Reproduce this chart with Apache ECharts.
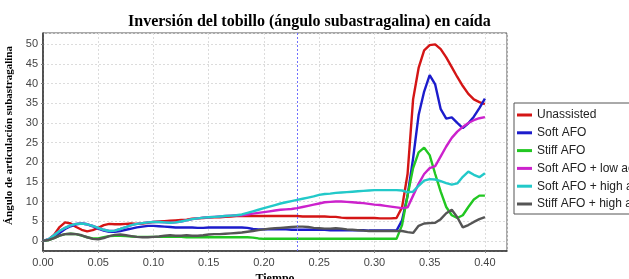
<!DOCTYPE html>
<html>
<head>
<meta charset="utf-8">
<script src="https://cdn.jsdelivr.net/npm/echarts@6/dist/echarts.min.js"></script>
<style>
  html, body { margin: 0; padding: 0; background: #fff; }
  #chart { width: 629px; height: 279px; }
</style>
</head>
<body>
<div id="chart"></div>
<script>
// tiempo (s), one value every 0.005
const tiempo = [
  0.000, 0.005, 0.010, 0.015, 0.020, 0.025, 0.030, 0.035, 0.040, 0.045,
  0.050, 0.055, 0.060, 0.065, 0.070, 0.075, 0.080, 0.085, 0.090, 0.095,
  0.100, 0.105, 0.110, 0.115, 0.120, 0.125, 0.130, 0.135, 0.140, 0.145,
  0.150, 0.155, 0.160, 0.165, 0.170, 0.175, 0.180, 0.185, 0.190, 0.195,
  0.200, 0.205, 0.210, 0.215, 0.220, 0.225, 0.230, 0.235, 0.240, 0.245,
  0.250, 0.255, 0.260, 0.265, 0.270, 0.275, 0.280, 0.285, 0.290, 0.295,
  0.300, 0.305, 0.310, 0.315, 0.320, 0.325, 0.330, 0.335, 0.340, 0.345,
  0.350, 0.355, 0.360, 0.365, 0.370, 0.375, 0.380, 0.385, 0.390, 0.395,
  0.400
];

const unassisted = [
  0, 0.3, 1.5, 3.5, 4.7, 4.4, 3.5, 2.8, 2.4, 2.7,
  3.3, 4.0, 4.3, 4.2, 4.2, 4.3, 4.4, 4.3, 4.4, 4.6,
  4.8, 4.9, 5.0, 5.1, 5.2, 5.3, 5.4, 5.6, 5.7, 5.8,
  5.9, 6.0, 6.0, 6.1, 6.2, 6.3, 6.3, 6.3, 6.3, 6.3,
  6.3, 6.3, 6.3, 6.3, 6.3, 6.3, 6.3, 6.2, 6.2, 6.2,
  6.2, 6.2, 6.1, 6.1, 5.9, 5.8, 5.8, 5.8, 5.8, 5.8,
  5.8, 5.7, 5.7, 5.7, 5.8, 8.5, 17.0, 36.0, 44.0, 48.5,
  49.8, 50.0, 48.8, 46.7, 44.2, 41.7, 39.4, 37.4, 36.0, 35.3,
  34.8
];

const softAfo = [
  0, 0.3, 1.0, 2.0, 3.0, 3.7, 4.2, 4.4, 4.2, 3.7,
  3.1, 2.6, 2.3, 2.3, 2.5, 2.8, 3.1, 3.4, 3.6, 3.8,
  3.8, 3.7, 3.6, 3.5, 3.4, 3.4, 3.4, 3.4, 3.3, 3.3,
  3.4, 3.4, 3.4, 3.4, 3.4, 3.4, 3.4, 3.3, 3.0, 2.9,
  2.9, 2.9, 2.9, 2.9, 2.9, 2.8, 2.8, 2.8, 2.8, 2.8,
  2.8, 2.8, 2.7, 2.7, 2.7, 2.7, 2.7, 2.7, 2.7, 2.6,
  2.6, 2.6, 2.6, 2.6, 2.6, 5.2, 11.5, 21.0, 32.0, 38.0,
  42.2, 39.8, 33.5, 31.1, 31.4, 30.0, 28.7, 29.9, 31.6, 33.8,
  36.2
];

const stiffAfo = [
  0, 0.2, 0.7, 1.3, 1.7, 1.8, 1.7, 1.3, 0.9, 0.6,
  0.6, 0.9, 1.2, 1.3, 1.3, 1.2, 1.1, 1.0, 1.0, 1.0,
  1.0, 1.0, 1.0, 1.0, 1.0, 1.0, 0.9, 0.9, 0.9, 0.9,
  0.9, 0.9, 0.9, 0.9, 0.9, 0.9, 0.9, 0.9, 0.8, 0.6,
  0.5, 0.5, 0.5, 0.5, 0.5, 0.5, 0.5, 0.5, 0.5, 0.5,
  0.5, 0.5, 0.5, 0.5, 0.5, 0.5, 0.5, 0.5, 0.5, 0.5,
  0.5, 0.5, 0.5, 0.5, 0.5, 4.0, 11.5, 18.5, 22.5, 23.7,
  21.8, 17.0, 12.5, 8.6, 6.5, 5.8, 6.5, 8.6, 10.5, 11.5,
  11.5
];

const softAfoLowAct = [
  0, 0.4, 1.4, 2.5, 3.3, 3.9, 4.3, 4.4, 4.2, 3.8,
  3.3, 2.8, 2.5, 2.6, 3.0, 3.5, 4.0, 4.3, 4.5, 4.7,
  4.8, 4.8, 4.7, 4.6, 4.7, 4.9, 5.2, 5.5, 5.7, 5.9,
  6.0, 6.1, 6.2, 6.3, 6.4, 6.5, 6.5, 6.7, 6.9, 7.1,
  7.3, 7.5, 7.7, 7.9, 8.0, 8.1, 8.3, 8.6, 8.9, 9.2,
  9.5, 9.8, 9.9, 10.0, 10.0, 9.9, 9.8, 9.7, 9.6, 9.4,
  9.2, 9.1, 8.9, 8.7, 8.5, 8.3, 8.5, 11.5, 14.5, 17.0,
  18.5, 19.0, 21.5, 24.0, 26.2, 27.8, 29.0, 30.0, 30.7, 31.2,
  31.5
];

const softAfoHighAct = [
  0, 0.4, 1.4, 2.5, 3.3, 3.9, 4.3, 4.4, 4.2, 3.8,
  3.3, 2.8, 2.5, 2.6, 3.0, 3.5, 4.0, 4.3, 4.5, 4.7,
  4.8, 4.8, 4.7, 4.6, 4.7, 4.9, 5.2, 5.5, 5.7, 5.9,
  6.0, 6.1, 6.2, 6.3, 6.4, 6.5, 6.7, 7.1, 7.5, 7.9,
  8.3, 8.7, 9.1, 9.5, 9.8, 10.1, 10.4, 10.7, 11.0, 11.3,
  11.7, 11.9, 12.0, 12.2, 12.3, 12.4, 12.5, 12.6, 12.7, 12.8,
  12.9, 12.9, 12.9, 12.9, 12.9, 12.8, 12.4, 12.5, 14.0, 15.3,
  15.7, 15.6, 15.2, 14.7, 14.3, 14.6, 16.3, 17.6, 16.8, 16.2,
  17.2
];

const stiffAfoHighAct = [
  0, 0.2, 0.7, 1.3, 1.7, 1.8, 1.7, 1.4, 0.9, 0.5,
  0.4, 0.7, 1.2, 1.5, 1.6, 1.4, 1.2, 1.0, 0.9, 0.9,
  1.0, 1.1, 1.3, 1.4, 1.3, 1.3, 1.4, 1.3, 1.3, 1.4,
  1.6, 1.7, 1.7, 1.8, 1.9, 2.0, 2.1, 2.3, 2.5, 2.7,
  2.9, 3.1, 3.2, 3.3, 3.4, 3.5, 3.6, 3.6, 3.5, 3.3,
  3.2, 3.1, 3.1, 3.2, 3.1, 2.9, 2.8, 2.7, 2.6, 2.5,
  2.5, 2.5, 2.5, 2.5, 2.5, 2.5, 2.2, 2.0, 3.8, 4.4,
  4.5, 4.6, 5.5, 7.0, 7.9, 6.0, 3.4, 4.0, 4.8, 5.5,
  6.0
];

const seriesNames = [
  "Unassisted",
  "Soft AFO",
  "Stiff AFO",
  "Soft AFO + low act",
  "Soft AFO + high act",
  "Stiff AFO + high act",
];
const seriesValues = [
  unassisted, softAfo, stiffAfo, softAfoLowAct, softAfoHighAct, stiffAfoHighAct,
];
const seriesColors = ["#d41515", "#1c1ccc", "#22c722", "#cc22cc", "#22c9c9", "#555555"];

// crosshair position
const cursorT = 0.229;

const chart = echarts.init(document.getElementById("chart"));

const series = seriesNames.map((name, i) => ({
  name: name,
  type: "line",
  data: tiempo.map((t, k) => [t, seriesValues[i][k]]),
  symbol: "none",
  smooth: false,
  lineStyle: { width: 2.4, color: seriesColors[i] },
  itemStyle: { color: seriesColors[i] },
}));

// crosshair, on its own empty series so it keeps its own colour
series.unshift({
  name: "cursor",
  type: "line",
  data: [],
  symbol: "none",
  color: "#6f6fff",
  markLine: {
    silent: true,
    symbol: "none",
    label: { show: false },
    itemStyle: { color: "#6f6fff" },
    lineStyle: { color: "#6f6fff", type: [2, 2], width: 1 },
    emphasis: { disabled: true },
    data: [{ xAxis: cursorT }],
  },
});

chart.setOption({
  animation: false,
  backgroundColor: "#fff",
  title: {
    text: "Inversión del tobillo (ángulo subastragalina) en caída",
    left: 123,
    top: 9,
    textStyle: {
      fontFamily: "Liberation Serif",
      fontWeight: "bold",
      fontSize: 16,
      color: "#000",
    },
  },
  legend: {
    orient: "vertical",
    left: 514,
    top: 103,
    padding: [5, 40, 3, 3],
    itemGap: 3.8,
    itemWidth: 15,
    itemHeight: 3,
    icon: "rect",
    borderColor: "#555",
    borderWidth: 1,
    backgroundColor: "#fff",
    textStyle: {
      fontFamily: "Liberation Sans",
      fontSize: 12,
      color: "#222",
      lineHeight: 14,
    },
    data: seriesNames,
  },
  grid: {
    left: 43,
    top: 33,
    right: 122,
    bottom: 28,
    outerBoundsMode: "none",
    show: true,
    borderColor: "#555",
    borderWidth: 1,
    backgroundColor: "#fff",
  },
  xAxis: {
    type: "value",
    min: 0,
    max: 0.42,
    interval: 0.05,
    name: "Tiempo",
    nameLocation: "middle",
    nameGap: 20,
    nameTextStyle: {
      fontFamily: "Liberation Serif",
      fontWeight: "bold",
      fontSize: 12,
      color: "#000",
    },
    axisLine: { onZero: false, lineStyle: { color: "#333", width: 1.5 } },
    axisTick: { show: true, length: 2, lineStyle: { color: "#888" } },
    axisLabel: {
      margin: 6,
      fontFamily: "Liberation Sans",
      fontSize: 11,
      color: "#444",
      showMaxLabel: false,
      formatter: (v) => v.toFixed(2),
    },
    splitLine: { show: true, lineStyle: { color: "#dcdcdc", type: [2, 2] } },
  },
  yAxis: {
    type: "value",
    min: -2.6,
    max: 52.9,
    splitNumber: 11,
    minInterval: 5,
    maxInterval: 5,
    name: "Ángulo de articulación subastragalina",
    nameLocation: "middle",
    nameGap: 26,
    nameTextStyle: {
      fontFamily: "Liberation Serif",
      fontWeight: "bold",
      fontSize: 11,
      color: "#000",
      padding: [0, 0, 0, 13],
    },
    axisLine: { show: true, onZero: false, lineStyle: { color: "#333", width: 1.5 } },
    axisTick: { show: true, length: 2, lineStyle: { color: "#888" } },
    axisLabel: {
      margin: 5,
      fontFamily: "Liberation Sans",
      fontSize: 11,
      color: "#444",
      showMinLabel: false,
      showMaxLabel: false,
    },
    splitLine: { show: true, lineStyle: { color: "#dcdcdc", type: [2, 2] } },
  },
  series: series,
});
</script>
</body>
</html>
